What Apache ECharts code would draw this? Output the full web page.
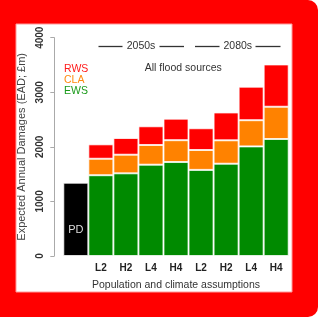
<!DOCTYPE html>
<html>
<head>
<meta charset="utf-8">
<script src="https://cdn.jsdelivr.net/npm/echarts@6/dist/echarts.min.js"></script>
<style>
  html, body { margin: 0; padding: 0; background: #fff; }
  #chart { width: 318px; height: 317px; }
</style>
</head>
<body>
<div id="chart"></div>
<script>
// values (£m)
const periods = ["2050s", "2080s"];
const scenarios = ["L2", "H2", "L4", "H4"];
const presentDay = 1343;
const ews = [1480, 1515, 1673, 1722, 1578, 1691, 2008, 2144];
const cla = [302, 341, 361, 400, 364, 429, 480, 591];
const rws = [264, 306, 343, 394, 399, 510, 614, 775];
const yTicks = [0, 1000, 2000, 3000, 4000];

const FONT = "Liberation Sans, Arial, sans-serif";

// category keys: PD first, then each period x scenario
const categories = ["PD"];
periods.forEach((p) => scenarios.forEach((s) => categories.push(p + " " + s)));

const pad = (arr) => ["-"].concat(arr);

const barStyle = (color) => ({
  color: color,
  borderColor: "rgba(255,255,255,0.75)",
  borderWidth: 1,
});

const chart = echarts.init(document.getElementById("chart"));

const option = {
  animation: false,
  textStyle: { fontFamily: FONT },
  grid: {
    left: 63.3,
    right: 29.3,
    top: 37.7,
    bottom: 61,
    outerBoundsMode: "none",
  },
  legend: {
    orient: "vertical",
    left: 54,
    top: 59,
    icon: "none",
    itemWidth: 0,
    itemHeight: 11,
    itemGap: 0,
    selectedMode: false,
    textStyle: { fontSize: 10.5, fontFamily: FONT },
    data: [
      { name: "RWS", textStyle: { color: "#ff1a1a" } },
      { name: "CLA", textStyle: { color: "#ff8a10" } },
      { name: "EWS", textStyle: { color: "#1a9a1a" } },
    ],
  },
  xAxis: {
    type: "category",
    data: categories,
    axisLine: { show: false },
    axisTick: { show: false },
    axisLabel: {
      interval: 0,
      margin: 7,
      fontSize: 10,
      fontWeight: "bold",
      color: "#222",
      formatter: (v) => (v === "PD" ? "" : v.split(" ")[1]),
    },
    name: "Population and climate assumptions",
    nameLocation: "middle",
    nameGap: 24,
    nameTextStyle: { fontSize: 10.5, color: "#333" },
  },
  yAxis: {
    type: "value",
    min: 0,
    max: 4000,
    interval: 1000,
    offset: 9,
    splitLine: { show: false },
    axisLine: { show: true, lineStyle: { color: "#aaa", width: 1 } },
    axisTick: { show: true, length: 4, lineStyle: { color: "#aaa" } },
    axisLabel: {
      rotate: 90,
      margin: 9,
      fontSize: 10,
      fontWeight: "bold",
      color: "#333",
      formatter: (v) => (yTicks.includes(v) ? String(v) : ""),
    },
    name: "Expected Annual Damages (EAD; \u00a3m)",
    nameLocation: "middle",
    nameGap: 22,
    nameTextStyle: { fontSize: 11, color: "#444" },
  },
  graphic: [
    {
      type: "rect",
      z: -100,
      silent: true,
      shape: { x: 0, y: 0, width: 318, height: 317, r: [0, 10, 10, 0] },
      style: { fill: "#ff0000" },
    },
    {
      type: "rect",
      z: -99,
      silent: true,
      shape: { x: 16, y: 24, width: 276, height: 268 },
      style: { fill: "#ffffff", stroke: "#ff9a9a", lineWidth: 1 },
    },
    { type: "line", shape: { x1: 98.5, y1: 46.5, x2: 122.5, y2: 46.5 }, style: { stroke: "#333", lineWidth: 1.3 } },
    { type: "line", shape: { x1: 159.5, y1: 46.5, x2: 184, y2: 46.5 }, style: { stroke: "#333", lineWidth: 1.3 } },
    { type: "line", shape: { x1: 195, y1: 46.5, x2: 219.5, y2: 46.5 }, style: { stroke: "#333", lineWidth: 1.3 } },
    { type: "line", shape: { x1: 255.5, y1: 46.5, x2: 280.5, y2: 46.5 }, style: { stroke: "#333", lineWidth: 1.3 } },
    {
      type: "text",
      x: 141, y: 46.5,
      style: { text: periods[0], fill: "#333", font: "10.5px " + FONT, align: "center", verticalAlign: "middle" },
    },
    {
      type: "text",
      x: 237.8, y: 46.5,
      style: { text: periods[1], fill: "#333", font: "10.5px " + FONT, align: "center", verticalAlign: "middle" },
    },
    {
      type: "text",
      x: 183.3, y: 67.7,
      style: { text: "All flood sources", fill: "#333", font: "10.5px " + FONT, align: "center", verticalAlign: "middle" },
    },
  ],
  series: [
    {
      name: "PD",
      type: "bar",
      stack: "ead",
      barCategoryGap: "0%",
      data: [presentDay].concat(ews.map(() => "-")),
      itemStyle: barStyle("#000000"),
      label: {
        show: true,
        position: "insideBottom",
        distance: 21,
        formatter: "PD",
        color: "#dddddd",
        fontSize: 11,
        fontFamily: FONT,
      },
    },
    { name: "EWS", type: "bar", stack: "ead", data: pad(ews), itemStyle: barStyle("#008a00") },
    { name: "CLA", type: "bar", stack: "ead", data: pad(cla), itemStyle: barStyle("#ff8200") },
    { name: "RWS", type: "bar", stack: "ead", data: pad(rws), itemStyle: barStyle("#ff0000") },
  ],
};

chart.setOption(option);
</script>
</body>
</html>
